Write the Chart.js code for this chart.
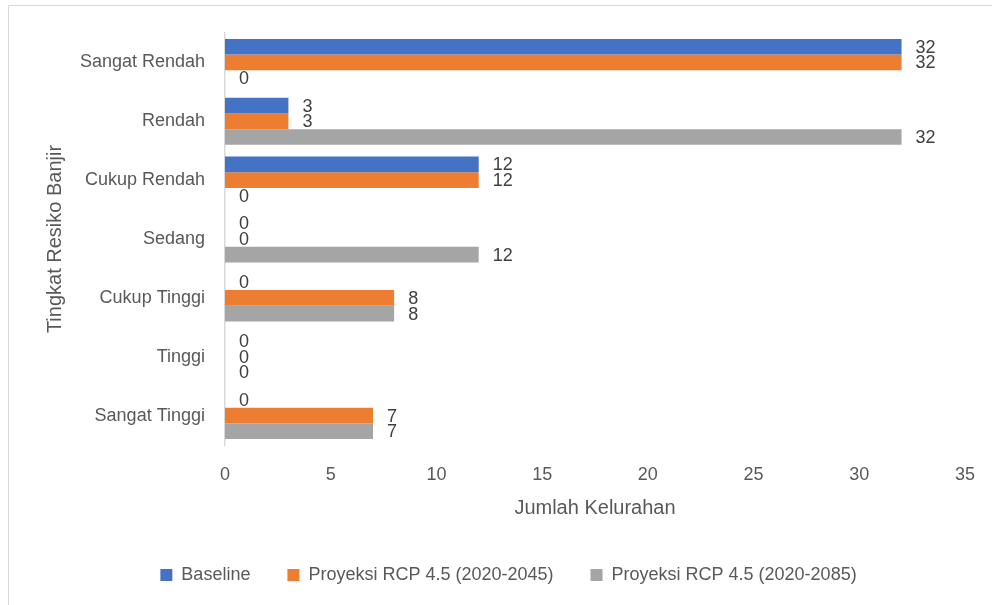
<!DOCTYPE html>
<html>
<head>
<meta charset="utf-8">
<script src="https://cdn.jsdelivr.net/npm/chart.js@4"></script>
<style>
  html, body { margin: 0; padding: 0; background: #fff; overflow: hidden; }
  body { width: 992px; height: 605px; position: relative; }
  .frame { position: absolute; left: 8px; top: 5px; width: 1000px; height: 700px;
           border: 1.5px solid #d9d9d9; box-sizing: border-box; }
  .wrap { position: absolute; left: 0; top: 0; width: 994px; height: 605px; }
</style>
</head>
<body>
<div class="frame"></div>
<div class="wrap"><canvas id="chart"></canvas></div>
<script>
  const categories = ["Sangat Rendah", "Rendah", "Cukup Rendah", "Sedang", "Cukup Tinggi", "Tinggi", "Sangat Tinggi"];
  const baseline = [32, 3, 12, 0, 0, 0, 0];
  const rcp2045 = [32, 3, 12, 0, 8, 0, 7];
  const rcp2085 = [0, 32, 0, 12, 8, 0, 7];
  const seriesNames = ["Baseline", "Proyeksi RCP 4.5 (2020-2045)", "Proyeksi RCP 4.5 (2020-2085)"];
  const seriesColors = ["#4472C4", "#ED7D31", "#A5A5A5"];

  const FONT = "'Liberation Sans', Arial, sans-serif";
  const textGrey = "#595959";

  // value labels to the right of each bar
  const barLabels = {
    id: "barLabels",
    afterDatasetsDraw(chart) {
      const ctx = chart.ctx;
      ctx.save();
      ctx.font = `18px ${FONT}`;
      ctx.fillStyle = "#404040";
      ctx.textAlign = "left";
      ctx.textBaseline = "middle";
      chart.data.datasets.forEach((ds, i) => {
        chart.getDatasetMeta(i).data.forEach((el, j) => {
          ctx.fillText(String(ds.data[j]), el.x + 14, el.y + 1);
        });
      });
      ctx.restore();
    },
  };

  // the legend sits a bit right of the canvas centre in the original
  const legendShift = {
    id: "legendShift",
    afterLayout(chart) {
      if (!chart.legend) return;
      chart.legend.left += 24;
      chart.legend.right += 24;
      chart.legend.top += 1;
      chart.legend.bottom += 1;
    },
  };

  const datasets = [baseline, rcp2045, rcp2085].map((d, i) => ({
    label: seriesNames[i],
    data: d,
    backgroundColor: seriesColors[i],
    borderWidth: 0,
    barPercentage: 1,
    categoryPercentage: 0.8,
  }));

  new Chart(document.getElementById("chart"), {
    type: "bar",
    data: { labels: categories, datasets },
    plugins: [barLabels, legendShift],
    options: {
      indexAxis: "y",
      responsive: true,
      maintainAspectRatio: false,
      animation: false,
      layout: { padding: { left: 0, right: 25, top: 33, bottom: 12 } },
      scales: {
        x: {
          min: 0, max: 35,
          ticks: { stepSize: 5, color: textGrey, font: { family: FONT, size: 18 }, padding: 19, maxRotation: 0 },
          grid: { display: false, drawTicks: false },
          border: { display: false },
          title: { display: true, text: "Jumlah Kelurahan", color: textGrey,
                   font: { family: FONT, size: 20 }, padding: { top: 0, bottom: 8 } },
          afterFit: (s) => { s.height = 83; },
        },
        y: {
          ticks: { color: textGrey, font: { family: FONT, size: 18 }, padding: 20 },
          grid: { display: false, drawTicks: false },
          border: { display: true, color: "#d9d9d9", width: 1.5 },
          title: { display: true, text: "Tingkat Resiko Banjir", color: textGrey,
                   font: { family: FONT, size: 20 }, padding: { top: 43, bottom: 0 } },
          afterFit: (s) => { s.width = 225; },
        },
      },
      plugins: {
        legend: {
          position: "bottom",
          labels: { boxWidth: 12, boxHeight: 12, padding: 37, color: textGrey,
                    font: { family: FONT, size: 18 } },
        },
        tooltip: { enabled: false },
      },
    },
  });
</script>
</body>
</html>
